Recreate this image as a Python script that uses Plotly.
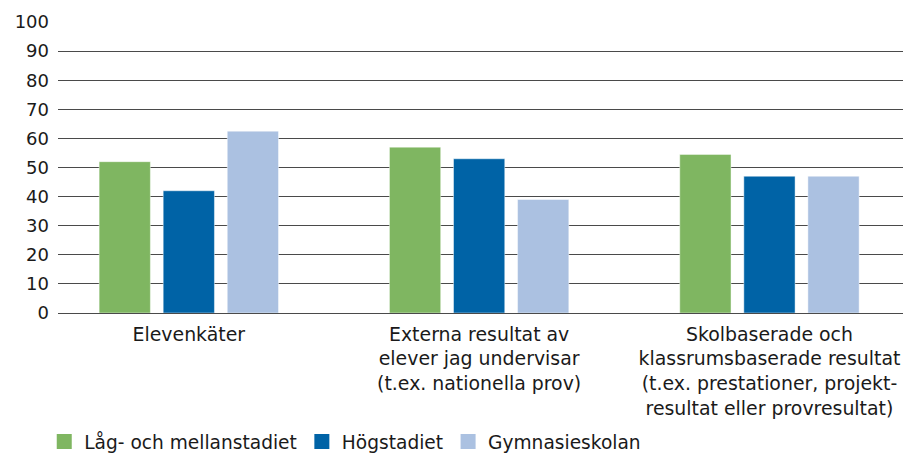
import plotly.graph_objects as go

categories = [
    "Elevenkäter",
    "Externa resultat av<br>elever jag undervisar<br>(t.ex. nationella prov)",
    "Skolbaserade och<br>klassrumsbaserade resultat<br>(t.ex. prestationer, projekt-<br>resultat eller provresultat)",
]
series_names = ["Låg- och mellanstadiet", "Högstadiet", "Gymnasieskolan"]
lag_mellan = [52, 57, 54.5]
hogstadiet = [42, 53, 47]
gymnasie = [62.5, 39, 47]
colors = ["#7FB661", "#0063A6", "#ABC1E1"]
y_ticks = list(range(0, 101, 10))

FONT = "DejaVu Sans"
TXT = "#1a1a1a"

fig = go.Figure()
for name, vals, col in zip(series_names, [lag_mellan, hogstadiet, gymnasie], colors):
    fig.add_trace(go.Bar(
        name=name, x=categories, y=vals, showlegend=False,
        marker=dict(color=col, line=dict(color="rgba(255,255,255,0.45)", width=1)),
    ))
# legend proxies (square swatches like the reference)
for name, col in zip(series_names, colors):
    fig.add_trace(go.Scatter(
        name=name, x=[None], y=[None], mode="markers",
        marker=dict(symbol="square", size=15, color=col),
        showlegend=True,
    ))

fig.update_layout(
    width=903, height=454,
    margin=dict(l=58, r=0, t=22, b=141),
    paper_bgcolor="white", plot_bgcolor="white",
    barmode="group", bargap=0.338, bargroupgap=0.2,
    font=dict(family=FONT, size=18, color=TXT),
    showlegend=True,
    legend=dict(
        orientation="h", xref="container", yref="container",
        x=0.049, y=(454 - 442) / 454, xanchor="left", yanchor="middle",
        font=dict(family=FONT, size=18.6, color=TXT),
        itemsizing="trace", itemwidth=30,
        bgcolor="rgba(0,0,0,0)",
    ),
)
fig.update_xaxes(
    type="category", range=[-0.4506, 2.460],
    showgrid=False, showline=False, zeroline=False,
    ticks="", tickfont=dict(family=FONT, size=18.9, color=TXT),
    ticklabelstandoff=8,
)
fig.update_yaxes(
    range=[0, 100], tickvals=y_ticks,
    showgrid=True, gridcolor="#4a4a4a", gridwidth=1,
    zeroline=True, zerolinecolor="#4a4a4a", zerolinewidth=1,
    showline=False, ticks="",
    tickfont=dict(family=FONT, size=18, color=TXT),
    ticklabelstandoff=8,
)

fig.write_html(
    "out.html",
    config={"displayModeBar": False},
    post_script="document.body.style.margin='0';document.body.style.overflow='hidden';",
)
